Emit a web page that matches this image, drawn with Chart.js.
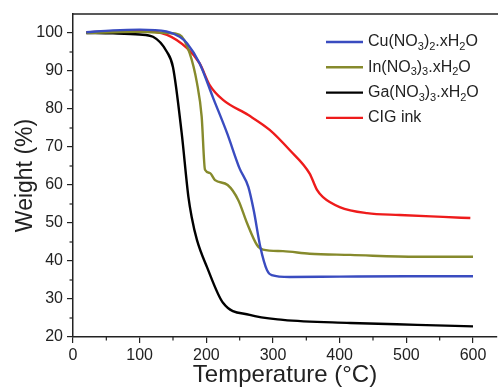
<!DOCTYPE html>
<html><head><meta charset="utf-8">
<script src="https://cdn.jsdelivr.net/npm/chart.js@4"></script>
<style>html,body{margin:0;padding:0;background:#fff}#wrap{width:498px;height:390px}</style>
</head><body><div id="wrap"><canvas id="c" width="498" height="390"></canvas></div>
<script>
const seriesLabels = ['Cu(NO3)2.xH2O', 'In(NO3)3.xH2O', 'Ga(NO3)3.xH2O', 'CIG ink'];
const seriesColors = ['#3a4cc0', '#868a2c', '#000000', '#ee1b1b'];

const tempCu   = [20, 60, 100, 140, 160, 171, 190, 210, 231, 250, 263, 271, 281, 291, 298, 325, 400, 500, 600];
const weightCu = [100.2, 100.7, 100.9, 100.4, 99, 97.3, 92, 83, 73.7, 64.3, 59.5, 53.4, 43.7, 37.6, 36.3, 35.8, 35.9, 36, 36];

const tempIn   = [20, 60, 100, 140, 160, 175, 186, 193, 198, 205, 213, 232, 248, 261, 276, 285, 315, 355, 416, 516, 600];
const weightIn = [100, 100.2, 100.3, 100, 99.5, 94.7, 86.8, 78, 64, 63.2, 61.3, 60, 56, 50, 44.2, 43, 42.6, 41.9, 41.6, 41.1, 41.1];

const tempGa   = [20, 60, 100, 120, 141, 150, 163, 173, 178, 186, 201, 225, 265, 315, 416, 516, 600];
const weightGa = [100, 99.9, 99.6, 99, 95, 91, 73.7, 57, 51.6, 45.5, 38.4, 29, 25.8, 24.5, 23.7, 23.2, 22.8];

const tempCIG   = [20, 66, 100, 141, 171, 190, 205, 225, 263, 295, 325, 355, 366, 375, 400, 441, 490, 555, 596];
const weightCIG = [100.2, 100.5, 100.6, 99.5, 96, 92, 86.3, 82.4, 78.4, 74.5, 69.2, 63, 58.7, 56.8, 54.2, 52.6, 52.1, 51.6, 51.3];

const xTicks = [0, 100, 200, 300, 400, 500, 600];
const yTicks = [20, 30, 40, 50, 60, 70, 80, 90, 100];

const temps = [tempCu, tempIn, tempGa, tempCIG];
const weights = [weightCu, weightIn, weightGa, weightCIG];

const FONT = '"Liberation Sans", Arial, sans-serif';
const INK = '#222';

const datasets = seriesLabels.map((lab, i) => ({
  label: lab,
  data: temps[i].map((t, j) => ({x: t, y: weights[i][j]})),
  borderColor: seriesColors[i],
  backgroundColor: seriesColors[i],
  borderWidth: 2.4,
  pointRadius: 0,
  cubicInterpolationMode: 'monotone',
  fill: false
}));

const extras = {
  id: 'extras',
  afterDraw(chart) {
    const ctx = chart.ctx, a = chart.chartArea;
    const xs = chart.scales.x, ys = chart.scales.y;
    ctx.save();
    ctx.strokeStyle = INK; ctx.lineWidth = 1.5;
    ctx.beginPath(); ctx.moveTo(a.left - 0.5, a.top); ctx.lineTo(chart.width, a.top); ctx.stroke();
    ctx.lineWidth = 1.2;
    for (let i = 0; i < xTicks.length - 1; i++) {
      const v = (xTicks[i] + xTicks[i + 1]) / 2, p = xs.getPixelForValue(v);
      ctx.beginPath(); ctx.moveTo(p, a.bottom); ctx.lineTo(p, a.bottom + 3.5); ctx.stroke();
    }
    for (let i = 0; i < yTicks.length - 1; i++) {
      const v = (yTicks[i] + yTicks[i + 1]) / 2, p = ys.getPixelForValue(v);
      ctx.beginPath(); ctx.moveTo(a.left, p); ctx.lineTo(a.left - 3.5, p); ctx.stroke();
    }
    const lx0 = 326, lx1 = 363, tx = 368, y0 = 42, dy = 25.3;
    seriesLabels.forEach((lab, i) => {
      const y = y0 + i * dy;
      ctx.strokeStyle = seriesColors[i]; ctx.lineWidth = 2.4;
      ctx.beginPath(); ctx.moveTo(lx0, y); ctx.lineTo(lx1, y); ctx.stroke();
      let x = tx;
      ctx.fillStyle = INK; ctx.textBaseline = 'middle'; ctx.textAlign = 'left';
      for (const ch of lab) {
        const sub = /[0-9]/.test(ch);
        ctx.font = (sub ? '11px ' : '16px ') + FONT;
        ctx.fillText(ch, x, sub ? y + 5 : y);
        x += ctx.measureText(ch).width;
      }
    });
    ctx.restore();
  }
};

new Chart(document.getElementById('c'), {
  type: 'line',
  data: {datasets},
  options: {
    responsive: false,
    animation: false,
    layout: {padding: {top: 14, right: 1, left: 0, bottom: 0}},
    plugins: {legend: {display: false}, tooltip: {enabled: false}},
    scales: {
      x: {
        type: 'linear', min: 0, max: 636,
        afterFit: s => { s.height = 53; },
        afterBuildTicks: s => { s.ticks = xTicks.map(v => ({value: v})); },
        grid: {display: true, drawOnChartArea: false, drawTicks: true, tickLength: 6, color: INK, lineWidth: 1.2},
        border: {display: true, color: INK, width: 1.5},
        ticks: {color: INK, font: {family: FONT, size: 16}, padding: 3, maxRotation: 0, autoSkip: false},
        title: {display: true, text: 'Temperature (°C)', color: INK, font: {family: FONT, size: 24}, padding: {top: 0, bottom: 0}}
      },
      y: {
        type: 'linear', min: 20, max: 105,
        afterFit: s => { s.width = 73; },
        afterBuildTicks: s => { s.ticks = yTicks.map(v => ({value: v})); },
        grid: {display: true, drawOnChartArea: false, drawTicks: true, tickLength: 6, color: INK, lineWidth: 1.2},
        border: {display: true, color: INK, width: 1.5},
        ticks: {color: INK, font: {family: FONT, size: 16}, padding: 4, autoSkip: false},
        title: {display: true, text: 'Weight (%)', color: INK, font: {family: FONT, size: 23}, padding: {top: 12, bottom: 0}}
      }
    }
  },
  plugins: [extras]
});
</script></body></html>
